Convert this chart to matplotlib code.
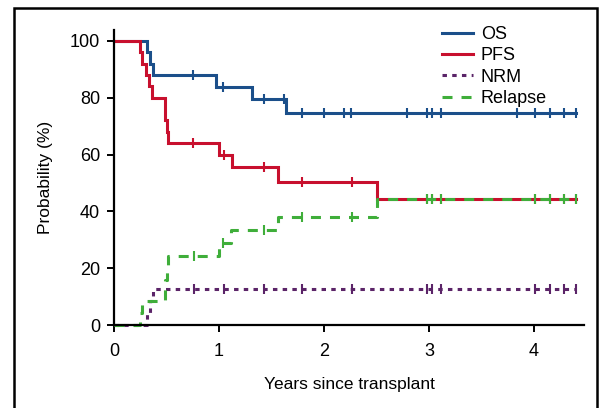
import numpy as np
import matplotlib
matplotlib.use("Agg")
import matplotlib.pyplot as plt
from matplotlib.patches import Rectangle

plt.rcParams['font.family'] = ['Liberation Sans', 'DejaVu Sans']
plt.rcParams['lines.scale_dashes'] = False

# ---- data ----
os_t = [0, 0.31, 0.343, 0.374, 0.971, 1.31, 1.635, 4.40]
os_s = [100, 96, 92, 88, 83.8, 79.4, 74.7, 74.7]
os_cens = [0.755, 1.04, 1.43, 1.62, 1.79, 2.0, 2.19, 2.26, 2.79, 2.98, 3.03,
           3.11, 3.84, 4.01, 4.15, 4.29, 4.40]

pfs_t = [0, 0.248, 0.27, 0.30, 0.333, 0.365, 0.49, 0.50, 0.51, 1.0, 1.12,
         1.565, 2.50, 4.40]
pfs_s = [100, 96, 92, 88, 84, 80, 72, 68, 64, 59.8, 55.5, 50.2, 44.5, 44.5]
pfs_cens = [0.755, 1.05, 1.43, 1.79, 2.27, 2.98, 3.03, 3.11, 4.01, 4.15,
            4.29, 4.40]

nrm_t = [0, 0.31, 0.34, 0.37, 4.40]
nrm_s = [0, 4.2, 8.3, 12.5, 12.5]
nrm_cens = [0.765, 1.05, 1.43, 1.79, 2.27, 2.98, 3.03, 3.11, 4.01, 4.15,
            4.29, 4.40]

rel_t = [0, 0.248, 0.27, 0.49, 0.50, 0.51, 1.0, 1.11, 1.565, 2.50, 4.40]
rel_s = [0, 4.2, 8.3, 16, 20, 24.2, 28.8, 33.4, 38.1, 44.5, 44.5]
rel_cens = [0.765, 1.04, 1.43, 1.79, 2.27, 2.98, 3.03, 3.11, 4.01, 4.15,
            4.29, 4.40]

labels = ['OS', 'PFS', 'NRM', 'Relapse']
colors = ['#1b4f8a', '#c8102e', '#5b2468', '#3fae3a']
xticks = [0, 1, 2, 3, 4]
yticks = [0, 20, 40, 60, 80, 100]

series = [(os_t, os_s, os_cens), (pfs_t, pfs_s, pfs_cens),
          (nrm_t, nrm_s, nrm_cens), (rel_t, rel_s, rel_cens)]
dashes = [None, None, (3.2, 3.8), (7.2, 6.5)]

fig = plt.figure(figsize=(6.02, 4.08), dpi=100)
ax = fig.add_axes([114/602, 1-325/408, (584-114)/602, (325-29.6)/408])

handles = []
for (t, s, c), lab, col, d in zip(series, labels, colors, dashes):
    line, = ax.step(t, s, where='post', color=col, lw=2.2, label=lab,
                    solid_joinstyle='miter', clip_on=False)
    if d is not None:
        line.set_dashes(d)
    handles.append(line)
    t_arr = np.asarray(t)
    s_arr = np.asarray(s)
    idx = np.searchsorted(t_arr, c, side='right') - 1
    ax.plot(c, s_arr[idx], linestyle='none', marker='|', markersize=7.5,
            markeredgewidth=1.5, color=col, clip_on=False)

ax.set_xlim(0, 4.476)
ax.set_ylim(0, 104)
ax.set_xticks(xticks)
ax.set_yticks(yticks)
for sp in ['top', 'right']:
    ax.spines[sp].set_visible(False)
for sp in ['left', 'bottom']:
    ax.spines[sp].set_linewidth(1.6)
ax.tick_params(axis='both', direction='out', length=5, width=1.4,
               labelsize=13)
ax.tick_params(axis='x', pad=8)
ax.tick_params(axis='y', pad=5)

label_font = dict(family=['Liberation Sans Narrow', 'Liberation Sans'],
                  fontsize=12.5)
ax.set_xlabel('Years since transplant', labelpad=12, **label_font)
ax.set_ylabel('Probability (%)', labelpad=12, **label_font)

leg = fig.legend(handles=handles, loc='upper left',
                 bbox_to_anchor=(442/602, 1-26/408), frameon=False,
                 fontsize=13, handlelength=1.7, handletextpad=0.45,
                 labelspacing=0.24, borderpad=0, borderaxespad=0)

frame = Rectangle((14/602, -0.1), (597-14)/602, 0.1 + (408-8)/408,
                  transform=fig.transFigure, fill=False, lw=1.8,
                  edgecolor='black', clip_on=False)
fig.add_artist(frame)

fig.savefig('out.png', dpi=100)
